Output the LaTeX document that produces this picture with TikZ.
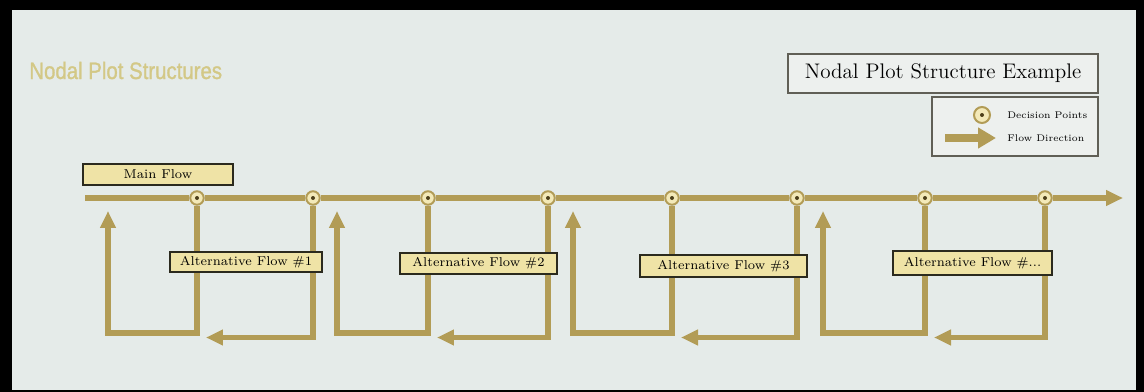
\documentclass[tikz,border=0pt]{standalone}
\usepackage{fontspec}
\usetikzlibrary{arrows.meta,calc}
\newfontfamily\headfont[FakeStretch=0.86,FakeBold=1.2]{Liberation Sans}

\definecolor{pagebg}{HTML}{E5EBE9}
\definecolor{flowc}{RGB}{178,156,86}
\definecolor{boxfill}{HTML}{EFE3A6}
\definecolor{boxline}{HTML}{2B2A1E}
\definecolor{cream}{HTML}{F3E9B8}
\definecolor{dotc}{HTML}{4D3F1A}
\definecolor{headc}{HTML}{D3C886}
\definecolor{panelfill}{HTML}{EDF0EE}

\tikzset{
  flow/.style={draw=flowc, line width=0.11cm, line join=miter},
  flowtip/.style={-{Triangle[width=0.30cm,length=0.34cm]}},
  decision/.style={circle, draw=flowc, line width=0.04cm, fill=cream,
    minimum size=0.27cm, inner sep=0pt,
    path picture={\fill[dotc] (path picture bounding box.center) circle (0.04cm);}},
  label box/.style={draw=boxline, line width=0.03cm, fill=boxfill,
    inner sep=0pt, font=\fontsize{7.3}{8.5}\selectfont},
  panel/.style={draw=boxline!75, line width=0.025cm, fill=panelfill, inner sep=0pt},
}

\begin{document}
\begin{tikzpicture}[x=0.02cm,y=-0.02cm]
  % frame and page
  \useasboundingbox (0,0) rectangle (1144,392);
  \fill[black] (0,0) rectangle (1144,392);
  \fill[pagebg] (12,10) rectangle (1136,390);

  % heading
  \node[anchor=base west, text=headc, inner sep=0pt,
        font=\headfont\fontsize{13.5}{15}\selectfont] (heading) at (29,79) {Nodal Plot Structures};

  % title panel and legend
  \node[panel, minimum width=6.2cm, minimum height=0.78cm,
        font=\fontsize{12}{14}\selectfont] (example) at (943,73.5) {Nodal Plot Structure Example};
  \node[panel, minimum width=3.32cm, minimum height=1.18cm] (legend) at (1015,126.5) {};
  \node[decision, minimum size=0.32cm] (legdp) at (982,115) {};
  \node[anchor=west, inner sep=0pt, font=\fontsize{5.5}{6.5}\selectfont] (legdptext) at (1007,115) {Decision Points};
  \coordinate (legA) at (945,138);
  \coordinate (legB) at (996,138);
  \draw[draw=flowc, line width=0.16cm, -{Triangle[width=0.40cm,length=0.36cm]}] (legA) -- (legB);
  \node[anchor=west, inner sep=0pt, font=\fontsize{5.5}{6.5}\selectfont] (legfdtext) at (1007,138) {Flow Direction};

  % decision points on the main line
  \foreach \n/\x in {1/197,2/313,3/428,4/548,5/672,6/797,7/925,8/1045}
    \node[decision] (d\n) at (\x,198) {};

  % main flow line
  \coordinate (mstart) at (85,198);
  \coordinate (mend) at (1123,198);
  \draw[flow, flowtip] (mstart) -- (d1) -- (d2) -- (d3) -- (d4) -- (d5) -- (d6) -- (d7) -- (d8) -- (mend);

  % alternative loops: left point drops and returns up to the main line,
  % right point drops and feeds back into the left branch
  \foreach \i/\a/\b/\u in {1/1/2/108, 2/3/4/337, 3/5/6/573, 4/7/8/823}{
    \coordinate (up\i) at (\u,211);
    \coordinate (cornerL\i) at (\u,333);
    \coordinate (back\i) at ($(d\a.south)+(9,0)$);
    \draw[flow, flowtip] (d\a.south) |- (cornerL\i) -- (up\i);
    \draw[flow, flowtip] (d\b.south) |- ([yshift=-0.09cm]back\i |- cornerL\i);
  }

  % labels
  \node[label box, minimum width=3.0cm, minimum height=0.42cm] (mainflow) at (158,174.5) {Main Flow};
  \node[label box, minimum width=3.04cm, minimum height=0.40cm] (alt1) at (246,262) {Alternative Flow \#1};
  \node[label box, minimum width=3.14cm, minimum height=0.42cm] (alt2) at (478.5,263.5) {Alternative Flow \#2};
  \node[label box, minimum width=3.34cm, minimum height=0.44cm] (alt3) at (723.5,266) {Alternative Flow \#3};
  \node[label box, minimum width=3.18cm, minimum height=0.48cm] (alt4) at (972.5,263) {Alternative Flow \#...};
\end{tikzpicture}
\end{document}
